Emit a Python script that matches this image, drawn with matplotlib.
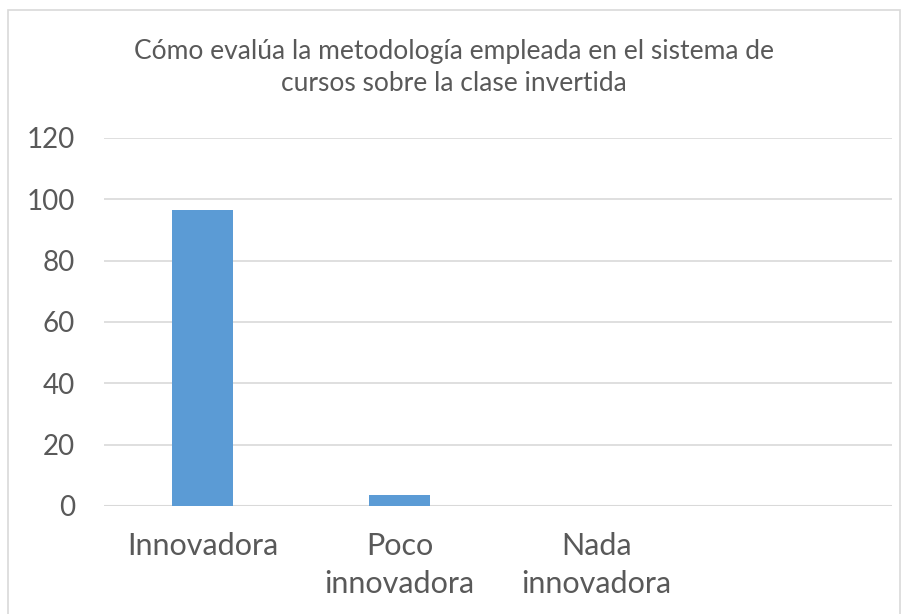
import matplotlib
matplotlib.use('Agg')
import matplotlib.pyplot as plt
import numpy as np
from matplotlib.patches import Rectangle

# categorías y valores (%)
categories = ['Innovadora', 'Poco\ninnovadora', 'Nada\ninnovadora', '']
values = [96.5, 3.5, 0, 0]
yticks = [0, 20, 40, 60, 80, 100, 120]
title = 'Cómo evalúa la metodología empleada en el sistema de\ncursos sobre la clase invertida'

plt.rcParams['font.family'] = ['Lato', 'DejaVu Sans']
text_color = '#595959'

fig = plt.figure(figsize=(9.08, 6.14), dpi=100)
ax = fig.add_axes([104 / 908, 1 - 506 / 614, 788 / 908, 368 / 614])

x = np.arange(len(categories))
ax.bar(x, values, 0.31, color='#5B9BD5', zorder=3)

ax.set_xlim(-0.5, len(categories) - 0.5)
ax.set_ylim(0, 120)
ax.set_yticks(yticks)
ax.set_xticks(x)
ax.set_xticklabels(categories, fontsize=22, color=text_color, linespacing=1.4)
ax.tick_params(axis='y', labelsize=20, labelcolor=text_color, length=0, pad=21)
ax.tick_params(axis='x', length=0, pad=19)
ax.yaxis.grid(True, color='#D9D9D9', linewidth=1.2, zorder=0)
for s in ax.spines.values():
    s.set_visible(False)
ax.axhline(0, color='#D9D9D9', linewidth=1.5, zorder=2)

fig.text(0.5, 1 - 67.5 / 614, title, ha='center', va='center', fontsize=19,
         color=text_color, linespacing=1.35)

# marco del gráfico
fig.patches.append(Rectangle((8 / 908, -0.01), 892 / 908, 1 - 10 / 614 + 0.01,
                             transform=fig.transFigure, fill=False,
                             edgecolor='#D9D9D9', linewidth=1.2))

fig.savefig('out.png', dpi=100)
